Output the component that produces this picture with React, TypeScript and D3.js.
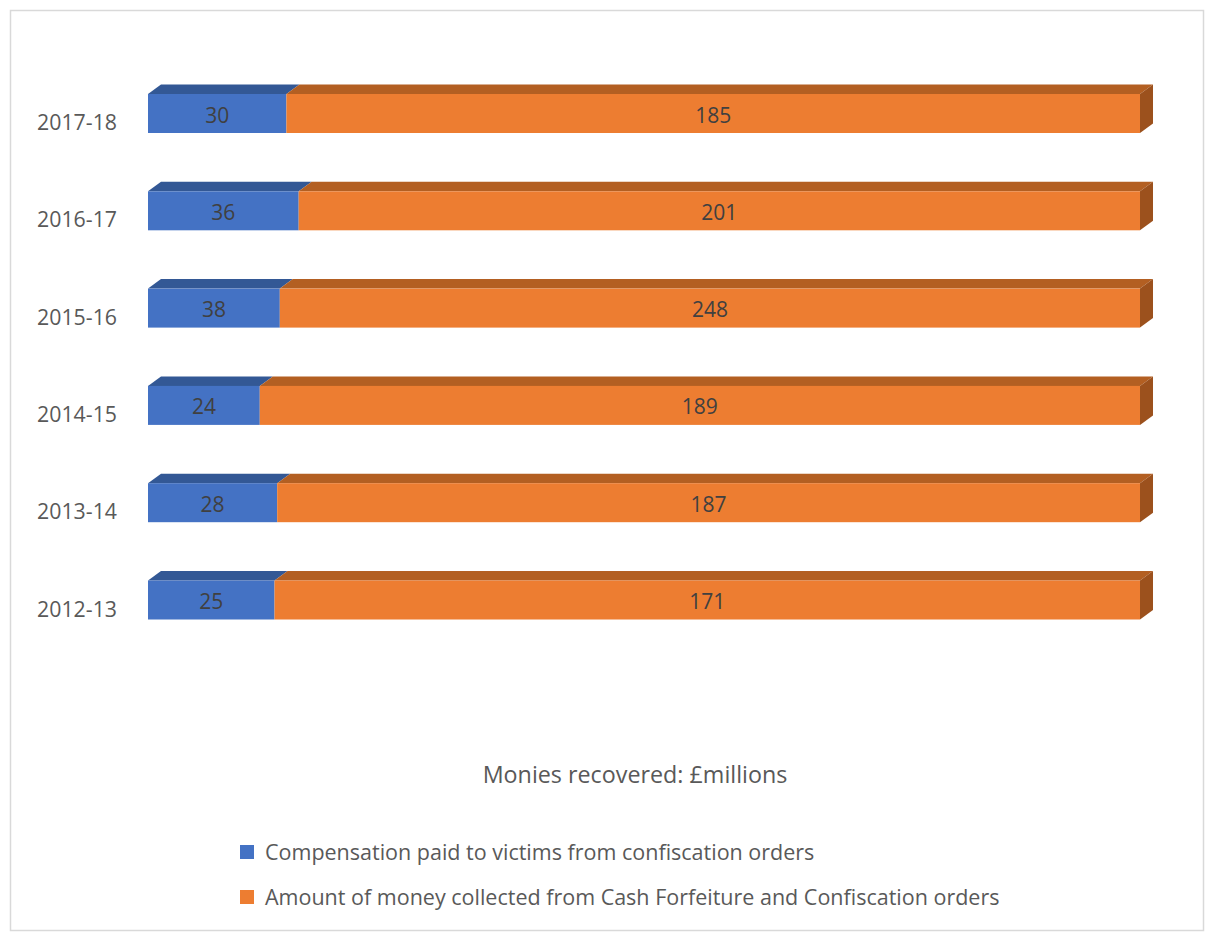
import React from "react";
import * as d3 from "d3";

const categories = ["2012-13", "2013-14", "2014-15", "2015-16", "2016-17", "2017-18"];
const compensation = [25, 28, 24, 38, 36, 30];
const collected = [171, 187, 189, 248, 201, 185];
const seriesNames = [
  "Compensation paid to victims from confiscation orders",
  "Amount of money collected from Cash Forfeiture and Confiscation orders",
];
const axisTitle = "Monies recovered: £millions";

const W = 1208;
const H = 933;
const FONT = "'Open Sans', 'Noto Sans', sans-serif";
const colors = {
  front: ["#4472C4", "#ED7D31"],
  top: ["#335895", "#B35F22"],
  side: ["#2E5190", "#9C511D"],
};
const DX = 13;
const DY = 9.5;
const BAR_H = 39;

export default function App() {
  const x = d3.scaleLinear().domain([0, 1]).range([148, 1140]);
  const order = [...categories].reverse();
  const y = d3.scalePoint<string>().domain(order).range([113.5, 600]);

  const rows = categories.map((c, i) => {
    const total = compensation[i] + collected[i];
    const vals = [compensation[i], collected[i]];
    let acc = 0;
    const segs = vals.map((v, k) => {
      const s = { k, v, x0: x(acc / total), x1: x((acc + v) / total) };
      acc += v;
      return s;
    });
    return { c, segs };
  });

  return (
    <svg
      width={W}
      height={H}
      style={{ position: "absolute", left: 0, top: 0, background: "#fff" }}
    >
      <rect x={10.5} y={10.5} width={1193} height={920} fill="#fff" stroke="#D9D9D9" strokeWidth={1.5} />
      {rows.map((r) => {
        const cy = y(r.c)!;
        const yTop = cy - BAR_H / 2;
        const last = r.segs[r.segs.length - 1];
        return (
          <g key={r.c}>
            {r.segs.map((s) => (
              <g key={s.k}>
                <polygon
                  points={`${s.x0},${yTop} ${s.x0 + DX},${yTop - DY} ${s.x1 + DX},${yTop - DY} ${s.x1},${yTop}`}
                  fill={colors.top[s.k]}
                />
                <rect x={s.x0} y={yTop} width={s.x1 - s.x0} height={BAR_H} fill={colors.front[s.k]} />
              </g>
            ))}
            <polygon
              points={`${last.x1},${yTop} ${last.x1 + DX},${yTop - DY} ${last.x1 + DX},${yTop + BAR_H - DY} ${last.x1},${yTop + BAR_H}`}
              fill={colors.side[last.k]}
            />
            {r.segs.map((s) => (
              <text
                key={"l" + s.k}
                x={(s.x0 + s.x1) / 2}
                y={cy + 9}
                textAnchor="middle"
                fontFamily={FONT}
                fontSize={21}
                fill="#404040"
              >
                {s.v}
              </text>
            ))}
            <text
              x={117}
              y={cy + 16.5}
              textAnchor="end"
              fontFamily={FONT}
              fontSize={21.3}
              fill="#595959"
            >
              {r.c}
            </text>
          </g>
        );
      })}
      <text x={635} y={783} textAnchor="middle" fontFamily={FONT} fontSize={23.3} fill="#595959">
        {axisTitle}
      </text>
      {seriesNames.map((n, i) => (
        <g key={n}>
          <rect x={240} y={845 + i * 45} width={14} height={14} fill={colors.front[i]} />
          <text x={265} y={859.5 + i * 45} fontFamily={FONT} fontSize={21.5} fill="#595959">
            {n}
          </text>
        </g>
      ))}
    </svg>
  );
}
